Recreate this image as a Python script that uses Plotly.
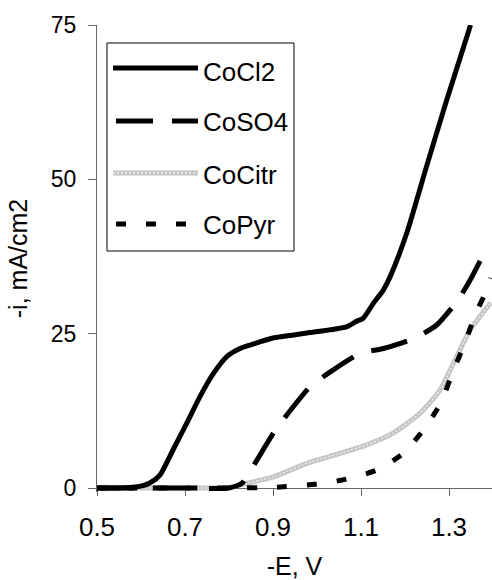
import plotly.graph_objects as go

# ---- data ----
series_names = ["CoCl2", "CoSO4", "CoCitr", "CoPyr"]

cocl2_x = [0.50, 0.55, 0.60, 0.62, 0.643, 0.673, 0.704, 0.734, 0.765, 0.795, 0.825, 0.85,
           0.90, 0.977, 1.067, 1.09, 1.105, 1.128, 1.151, 1.166, 1.204, 1.249, 1.295, 1.349]
cocl2_y = [0.0, 0.0, 0.3, 0.8, 2.1, 6.2, 10.5, 14.8, 18.6, 21.3, 22.6, 23.2,
           24.3, 25.1, 26.1, 27.0, 27.5, 29.9, 32.1, 34.2, 41.3, 52.1, 62.9, 75.0]

coso4_x = [0.50, 0.60, 0.70, 0.80, 0.83, 0.859, 0.901, 0.931, 0.984, 1.026, 1.098, 1.151,
           1.223, 1.272, 1.321, 1.348, 1.385]
coso4_y = [0.0, 0.0, 0.0, 0.0, 0.8, 4.0, 8.9, 11.8, 16.4, 18.6, 21.8, 22.6,
           24.3, 26.4, 30.5, 33.7, 38.8]

cocitr_x = [0.50, 0.70, 0.80, 0.825, 0.901, 0.977, 1.052, 1.113, 1.173, 1.234, 1.28, 1.31,
            1.348, 1.395]
cocitr_y = [0.0, 0.0, 0.1, 0.5, 1.8, 4.0, 5.6, 7.0, 8.9, 12.1, 15.9, 20.2, 25.6, 30.0]

copyr_x = [0.50, 0.80, 0.90, 0.995, 1.064, 1.136, 1.196, 1.245, 1.283, 1.31, 1.336, 1.359,
           1.382, 1.395]
copyr_y = [0.0, 0.0, 0.1, 0.6, 1.4, 2.9, 5.6, 9.7, 14.0, 19.1, 23.4, 28.0, 31.5, 34.0]

x_ticks = [0.5, 0.7, 0.9, 1.1, 1.3]
x_tick_labels = ["0.5", "0.7", "0.9", "1.1", "1.3"]
y_ticks = [0, 25, 50, 75]
y_tick_labels = ["0", "25", "50", "75"]

# ---- styles ----
FONT = "Arial, Liberation Sans, sans-serif"
styles = {
    "CoCl2": dict(color="black", width=5, dash="solid"),
    "CoSO4": dict(color="black", width=5, dash="37px,19px"),
    "CoCitr": dict(color="#c4c4c4", width=5, dash="solid"),
    "CoPyr": dict(color="black", width=5, dash="10px,20px"),
}
data = {
    "CoCl2": (cocl2_x, cocl2_y),
    "CoSO4": (coso4_x, coso4_y),
    "CoCitr": (cocitr_x, cocitr_y),
    "CoPyr": (copyr_x, copyr_y),
}

W, H = 492, 580
L, R, T, B = 97, 0, 25, 88
PW, PH = W - L - R, H - T - B
X0, X1 = 0.5, 0.5 + 0.2 * PW / 88.0
Y_PER_PX = 25 / 154.33
Y0 = -(492 - 488) * Y_PER_PX
Y1 = 75.0


def px_x(p):
    return (p - L) / PW


def px_y(p):
    return (H - B - p) / PH


fig = go.Figure()
draw_order = ["CoCitr", "CoPyr", "CoSO4", "CoCl2"]
for name in draw_order:
    xs, ys = data[name]
    st = styles[name]
    fig.add_trace(go.Scatter(
        x=xs, y=ys, mode="lines", name=name, showlegend=False,
        line=dict(color=st["color"], width=st["width"], dash=st["dash"],
                  shape="spline", smoothing=0.6),
    ))
    if name == "CoCitr":
        fig.add_trace(go.Scatter(
            x=xs, y=ys, mode="lines", showlegend=False, hoverinfo="skip",
            line=dict(color="#ededed", width=1.5, dash="2px,2px",
                      shape="spline", smoothing=0.6),
        ))

# ---- custom legend ----
shapes = [dict(type="rect", xref="paper", yref="paper",
               x0=px_x(107), x1=px_x(294), y0=px_y(251), y1=px_y(43),
               line=dict(color="black", width=1), fillcolor="white", layer="below")]
annotations = []
leg_rows = [("CoCl2", 68, 72, 113, 198), ("CoSO4", 121, 122, 116, 198),
            ("CoCitr", 173, 175, 113, 198), ("CoPyr", 224, 225, 116, 190)]
for name, ly, ty, lx0, lx1 in leg_rows:
    st = styles[name]
    shapes.append(dict(type="line", xref="paper", yref="paper",
                       x0=px_x(lx0), x1=px_x(lx1), y0=px_y(ly), y1=px_y(ly),
                       line=dict(color=st["color"], width=st["width"], dash=st["dash"])))
    if name == "CoCitr":
        shapes.append(dict(type="line", xref="paper", yref="paper",
                           x0=px_x(lx0), x1=px_x(lx1), y0=px_y(ly), y1=px_y(ly),
                           line=dict(color="#ededed", width=1.5, dash="2px,2px")))
    annotations.append(dict(text=name, xref="paper", yref="paper",
                            x=px_x(201), y=px_y(ty), xanchor="left", yanchor="middle",
                            showarrow=False, font=dict(family=FONT, size=26, color="black")))

fig.update_layout(
    width=W, height=H,
    margin=dict(l=L, r=R, t=T, b=B, autoexpand=False),
    plot_bgcolor="white", paper_bgcolor="white",
    font=dict(family=FONT, size=24, color="black"),
    shapes=shapes, annotations=annotations,
    showlegend=False,
)
fig.update_xaxes(
    range=[X0, X1], tickvals=x_ticks, ticktext=x_tick_labels,
    tickfont=dict(family=FONT, size=26, color="black"),
    showgrid=False, zeroline=False, showline=True, linecolor="#666", linewidth=1,
    ticks="outside", ticklen=7, tickcolor="#666", ticklabelstandoff=9,
    anchor="free", position=px_y(488), layer="below traces",
    title=dict(text="-E, V", standoff=18, font=dict(family=FONT, size=25)),
)
fig.update_yaxes(
    range=[Y0, Y1], tickvals=y_ticks, ticktext=y_tick_labels,
    tickfont=dict(family=FONT, size=23, color="black"),
    showgrid=False, zeroline=False, showline=True, linecolor="#666", linewidth=1,
    ticks="outside", ticklen=8, tickcolor="#666", ticklabelstandoff=7,
    layer="below traces",
    title=dict(text="-i, mA/cm2", standoff=16, font=dict(family=FONT, size=25)),
)

fig.write_html("out.html")
